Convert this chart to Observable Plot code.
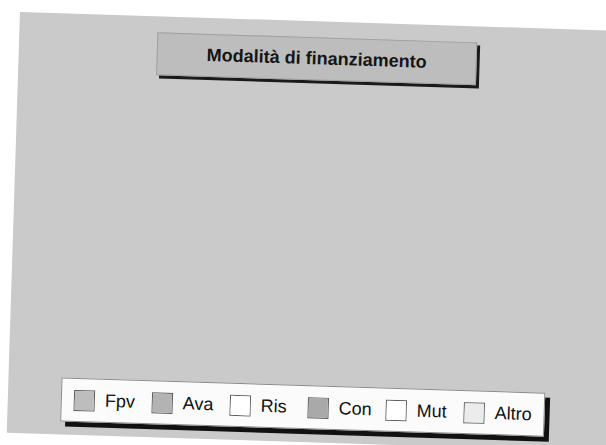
<!DOCTYPE html>
<html>
<head>
<meta charset="utf-8">
<script src="https://cdn.jsdelivr.net/npm/d3@7"></script>
<script src="https://cdn.jsdelivr.net/npm/@observablehq/plot@0.6"></script>
<style>
  html, body { margin: 0; padding: 0; background: #ffffff; }
  #stage { position: relative; width: 606px; height: 445px; overflow: hidden; background: #fff; }
  #page {
    position: absolute; left: 20px; top: 12px; width: 640px; height: 421px;
    background: #cbcbcb; transform: rotate(1.8deg); transform-origin: 0 0;
    font-family: "Liberation Sans", Arial, sans-serif;
  }
  #noise { position: absolute; left: 0; top: 0; }
  #title {
    position: absolute; left: 138px; top: 16px; width: 320px; height: 43px;
    background: #bdbdbd; border: 1px solid #a0a0a0; box-sizing: border-box;
    box-shadow: 3px 3px 0 #1a1a1a;
    display: flex; align-items: center; justify-content: center;
    font-weight: bold; font-size: 18px; color: #151515;
  }
  #chart { position: absolute; left: 40px; top: 80px; }
  #legend {
    position: absolute; left: 53px; top: 364px; width: 484px; height: 44px;
    background: #fbfbfb; border: 1px solid #8a8a8a; box-sizing: border-box;
    box-shadow: 5px 5px 0 #111;
    display: flex; align-items: center; padding-left: 12px;
  }
  .lg-swatches { margin: 0 !important; display: flex; flex-wrap: nowrap; font-family: "Liberation Sans", Arial, sans-serif !important; font-size: 18px !important; color: #111; }
  .lg-swatch { width: 78px; margin: 0 !important; display: inline-flex; align-items: center; font-size: 18px !important; }
  .lg-swatch > svg { border: 1px solid #5a5a5a; box-sizing: border-box; margin-right: 10px !important; }
</style>
</head>
<body>
<div id="stage">
  <div id="page">
    <svg id="noise" width="640" height="421">
      <filter id="grain"><feTurbulence type="fractalNoise" baseFrequency="0.9" numOctaves="2" seed="3"/>
        <feColorMatrix type="matrix" values="0 0 0 0 0.55  0 0 0 0 0.55  0 0 0 0 0.55  0 0 0 0.35 0"/></filter>
      <rect width="640" height="421" filter="url(#grain)"/>
    </svg>
    <div id="title"></div>
    <div id="chart"></div>
    <div id="legend"></div>
  </div>
</div>
<script>
const titleText = "Modalità di finanziamento";
const categories = ["Fpv", "Ava", "Ris", "Con", "Mut", "Altro"];
const swatchColors = ["#bdbdbd", "#b3b3b3", "#ffffff", "#a9a9a9", "#ffffff", "#ececec"];
// The plot area of the reference is empty: no values were printed.
const values = [];

document.getElementById("title").textContent = titleText;

const chart = Plot.plot({
  width: 520, height: 270,
  style: { background: "transparent" },
  x: { axis: null }, y: { axis: null },
  marks: [
    Plot.barX(values, { x: "value", y: "category", fill: "category" })
  ]
});
document.getElementById("chart").append(chart);

const legend = Plot.legend({
  color: { type: "ordinal", domain: categories, range: swatchColors },
  legend: "swatches",
  swatchSize: 21,
  className: "lg"
});
document.getElementById("legend").append(legend);
</script>
</body>
</html>
